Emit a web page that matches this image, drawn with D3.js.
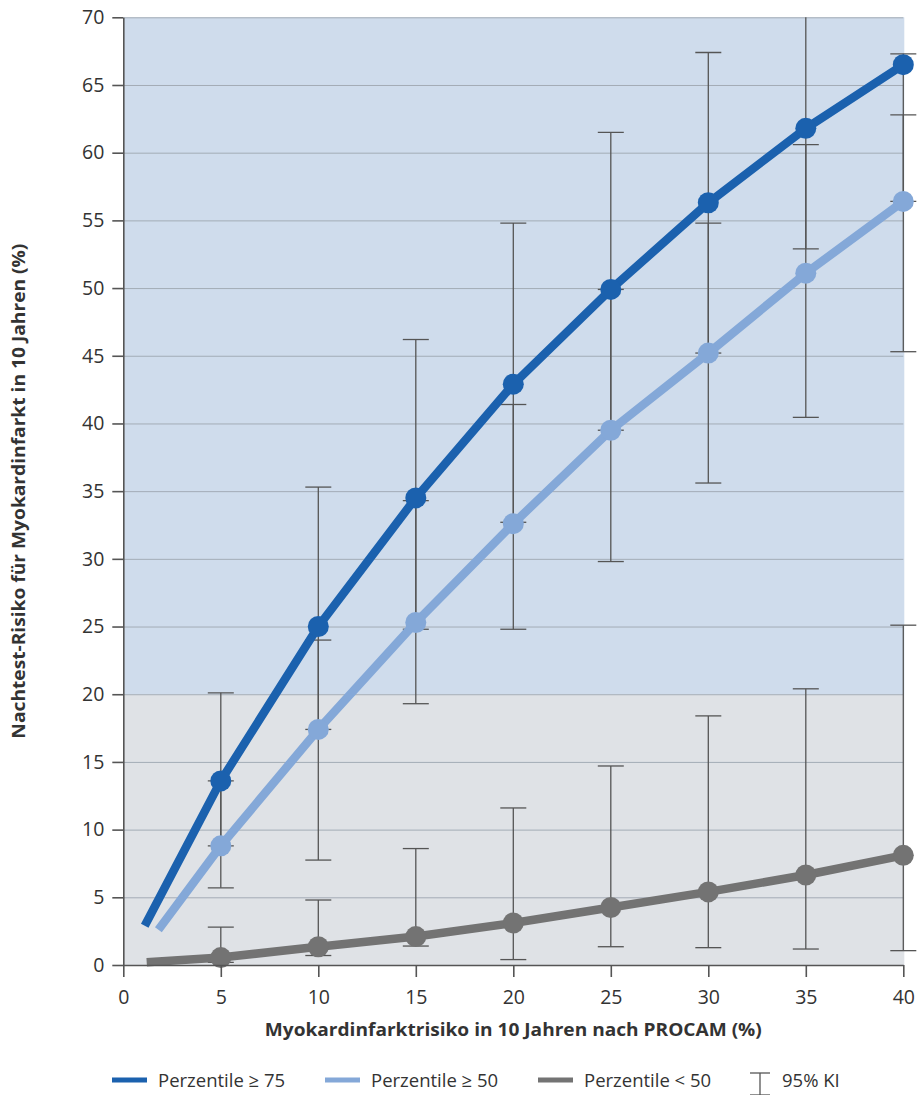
<!DOCTYPE html>
<html>
<head>
<meta charset="utf-8">
<script src="https://cdn.jsdelivr.net/npm/d3@7"></script>
<style>
  body { margin: 0; background: #fff; }
  text { font-family: "Open Sans", "Noto Sans", sans-serif; fill: #333; }
</style>
</head>
<body>
<div id="chart"></div>
<script>
// values
var xTicks = [0, 5, 10, 15, 20, 25, 30, 35, 40];
var yTicks = [0, 5, 10, 15, 20, 25, 30, 35, 40, 45, 50, 55, 60, 65, 70];
var riskX = [5, 10, 15, 20, 25, 30, 35, 40];

var p75 = [13.6, 25.0, 34.5, 42.9, 49.9, 56.3, 61.8, 66.5];
var p75Lo = [8.8, 17.4, 24.8, 32.7, 39.5, 45.2, 52.9, 56.4];
var p75Hi = [20.1, 35.3, 46.2, 54.8, 61.5, 67.4, 72, 67.3];
var p75Start = [1.1, 2.9];

var p50 = [8.8, 17.4, 25.3, 32.6, 39.5, 45.2, 51.1, 56.4];
var p50Lo = [5.7, 7.75, 19.3, 24.8, 29.8, 35.6, 40.45, 45.3];
var p50Hi = [13.6, 24.0, 34.3, 41.4, 49.9, 54.8, 60.6, 62.8];
var p50Start = [1.8, 2.6];

var pLow = [0.55, 1.35, 2.1, 3.1, 4.25, 5.4, 6.65, 8.1];
var pLowLo = [0.2, 0.7, 1.4, 0.4, 1.35, 1.28, 1.18, 1.06];
var pLowHi = [2.8, 4.8, 8.6, 11.6, 14.7, 18.4, 20.4, 25.1];
var pLowStart = [1.2, 0.2];

var bandSplit = 20;
var seriesNames = ["Perzentile \u2265 75", "Perzentile \u2265 50", "Perzentile < 50"];
var ciName = "95% KI";
var xTitle = "Myokardinfarktrisiko in 10 Jahren nach PROCAM (%)";
var yTitle = "Nachtest-Risiko f\u00fcr Myokardinfarkt in 10 Jahren (%)";

var W = 917, H = 1095;
var x = d3.scaleLinear().domain([0, 40]).range([123.3, 903.3]);
var y = d3.scaleLinear().domain([0, 70]).range([965, 17.3]);

var svg = d3.select("#chart").append("svg")
    .attr("width", W)
    .attr("height", H);

svg.append("clipPath").attr("id", "plot")
  .append("rect")
    .attr("x", x(0))
    .attr("y", y(70))
    .attr("width", x(40) - x(0) + 20)
    .attr("height", y(0) - y(70));

// background bands
svg.append("rect")
    .attr("x", x(0)).attr("y", y(70))
    .attr("width", x(40) - x(0) + 1).attr("height", y(bandSplit) - y(70))
    .attr("fill", "#cfdcec");
svg.append("rect")
    .attr("x", x(0)).attr("y", y(bandSplit))
    .attr("width", x(40) - x(0) + 1).attr("height", y(0) - y(bandSplit))
    .attr("fill", "#dfe2e6");

// grid
svg.append("g")
    .attr("transform", "translate(" + x(0) + ",0)")
    .call(d3.axisLeft(y).tickValues(yTicks.slice(1)).tickSize(-(x(40) - x(0))).tickFormat(""))
    .call(function (g) {
        g.select(".domain").remove();
        g.selectAll("line").attr("stroke", "#a3acb6").attr("stroke-width", 1);
    });

var series = [
    { name: seriesNames[0], v: p75, lo: p75Lo, hi: p75Hi, start: p75Start, color: "#1b61ae" },
    { name: seriesNames[1], v: p50, lo: p50Lo, hi: p50Hi, start: p50Start, color: "#84a8d8" },
    { name: seriesNames[2], v: pLow, lo: pLowLo, hi: pLowHi, start: pLowStart, color: "#737373" }
];

// error bars behind the lines
var eb = svg.append("g").attr("clip-path", "url(#plot)")
    .attr("stroke", "#555").attr("stroke-width", 1.3).attr("fill", "none");
series.forEach(function (s) {
    riskX.forEach(function (rx, i) {
        var cx = x(rx);
        eb.append("line").attr("x1", cx).attr("x2", cx)
            .attr("y1", y(s.lo[i])).attr("y2", y(s.hi[i]));
        [s.lo[i], s.hi[i]].forEach(function (v) {
            eb.append("line").attr("x1", cx - 13).attr("x2", cx + 13)
                .attr("y1", y(v)).attr("y2", y(v));
        });
    });
});

var line = d3.line()
    .x(function (d) { return x(d[0]); })
    .y(function (d) { return y(d[1]); });

series.slice().reverse().forEach(function (s) {
    var pts = [s.start].concat(riskX.map(function (rx, i) { return [rx, s.v[i]]; }));
    svg.append("path")
        .attr("d", line(pts))
        .attr("fill", "none")
        .attr("stroke", s.color)
        .attr("stroke-width", 8.5)
        .attr("stroke-linejoin", "round");
    svg.append("g").selectAll("circle")
        .data(pts.slice(1))
        .enter()
        .append("circle")
        .attr("cx", function (d) { return x(d[0]); })
        .attr("cy", function (d) { return y(d[1]); })
        .attr("r", 10.5)
        .attr("fill", s.color);
});

// axes
var axisColor = "#555";
svg.append("g")
    .attr("transform", "translate(0," + y(0) + ")")
    .call(d3.axisBottom(x).tickValues(xTicks).tickSize(12).tickPadding(13).tickSizeOuter(0))
    .call(function (g) {
        g.select(".domain").attr("stroke", axisColor).attr("stroke-width", 1.6);
        g.selectAll("line").attr("stroke", axisColor).attr("stroke-width", 1.6);
        g.selectAll("text").attr("font-size", 19.5).attr("fill", "#2b2b2b");
    });
svg.append("g")
    .attr("transform", "translate(" + x(0) + ",0)")
    .call(d3.axisLeft(y).tickValues(yTicks).tickSize(11).tickPadding(8).tickSizeOuter(0))
    .call(function (g) {
        g.select(".domain").attr("stroke", axisColor).attr("stroke-width", 1.6);
        g.selectAll("line").attr("stroke", axisColor).attr("stroke-width", 1.6);
        g.selectAll("text").attr("font-size", 19.5).attr("fill", "#2b2b2b");
    });

// titles
svg.append("text")
    .attr("x", (x(0) + x(40)) / 2)
    .attr("y", 1036)
    .attr("text-anchor", "middle")
    .attr("font-size", 18.5)
    .attr("font-weight", "bold")
    .attr("textLength", 497)
    .attr("lengthAdjust", "spacingAndGlyphs")
    .text(xTitle);

svg.append("text")
    .attr("transform", "translate(25," + (y(0) + y(70)) / 2 + ") rotate(-90)")
    .attr("text-anchor", "middle")
    .attr("font-size", 17.5)
    .attr("font-weight", "bold")
    .attr("textLength", 495)
    .attr("lengthAdjust", "spacingAndGlyphs")
    .text(yTitle);

// legend
var legendX = [112, 325, 538];
var lg = svg.append("g");
series.forEach(function (s, i) {
    lg.append("line")
        .attr("x1", legendX[i]).attr("x2", legendX[i] + 35)
        .attr("y1", 1080).attr("y2", 1080)
        .attr("stroke", s.color).attr("stroke-width", 5);
    lg.append("text")
        .attr("x", legendX[i] + 46)
        .attr("y", 1087)
        .attr("font-size", 18.5)
        .text(s.name);
});
var kx = 760;
lg.append("line").attr("x1", kx).attr("x2", kx).attr("y1", 1073).attr("y2", 1097)
    .attr("stroke", "#555").attr("stroke-width", 1.3);
lg.append("line").attr("x1", kx - 10).attr("x2", kx + 10).attr("y1", 1073).attr("y2", 1073)
    .attr("stroke", "#555").attr("stroke-width", 1.3);
lg.append("line").attr("x1", kx - 10).attr("x2", kx + 10).attr("y1", 1095).attr("y2", 1095)
    .attr("stroke", "#555").attr("stroke-width", 1.3);
lg.append("text")
    .attr("x", 782)
    .attr("y", 1087)
    .attr("font-size", 18.5)
    .text(ciName);
</script>
</body>
</html>
